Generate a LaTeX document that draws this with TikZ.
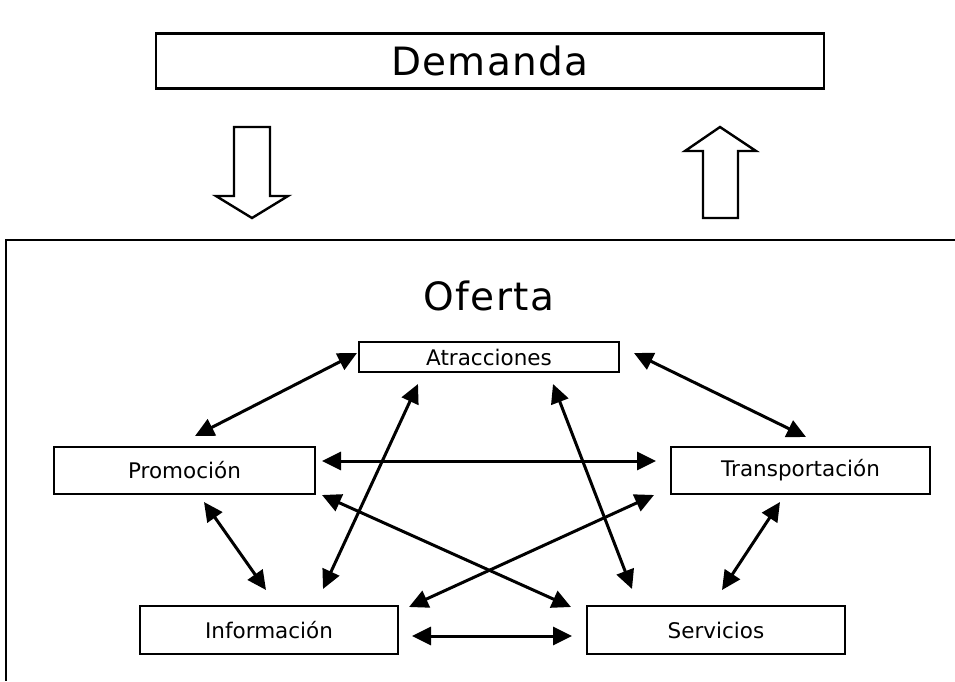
\documentclass[tikz,border=0pt]{standalone}
\usepackage{fontspec}
\setmainfont{DejaVu Sans}
\newfontfamily\widefont[LetterSpace=3.5]{DejaVu Sans}
\usetikzlibrary{arrows.meta}
\begin{document}
\begin{tikzpicture}[x=1pt,y=-1pt,
  box/.style={draw,line width=2.2pt,rectangle,inner sep=0pt,anchor=center},
  small/.style={font=\fontsize{21.5}{23}\selectfont},
  link/.style={line width=3pt,{Triangle[length=19pt,width=18pt]}-{Triangle[length=19pt,width=18pt]}},
  bigarrow/.style={draw,line width=2.4pt,line join=miter,fill=white}]
\useasboundingbox (0,0) rectangle (955,681);
% Demanda
\node[box,minimum width=668pt,minimum height=55pt,font=\widefont\fontsize{39}{41}\selectfont] (dem) at (490,61) {Demanda};
% big arrows
\draw[bigarrow] (234,127) -- (270,127) -- (270,196) -- (288,196) -- (252,218) -- (216,196) -- (234,196) -- cycle;
\draw[bigarrow] (703,218) -- (738,218) -- (738,151) -- (756,151) -- (720,127) -- (685,151) -- (703,151) -- cycle;
% outer frame
\draw[line width=2.6pt] (955,240) -- (6,240) -- (6,681);
\node[font=\widefont\fontsize{39}{41}\selectfont] (of) at (489,296) {Oferta};
% boxes
\node[box,small,minimum width=260pt,minimum height=30pt] (atr) at (489,357) {Atracciones};
\node[box,small,minimum width=261pt,minimum height=47pt] (pro) at (184.5,470.5) {Promoción};
\node[box,small,minimum width=259pt,minimum height=47pt] (tra) at (800.5,470.5) {Transportación};
\node[box,small,minimum width=258pt,minimum height=48pt] (inf) at (269,630) {Información};
\node[box,small,minimum width=258pt,minimum height=48pt] (ser) at (716,630) {Servicios};
% arrow endpoints
\coordinate (ap1) at (357,353); \coordinate (pa1) at (195,436);
\coordinate (at1) at (634,353); \coordinate (ta1) at (806,437);
\coordinate (pt1) at (322,461); \coordinate (tp1) at (656,461);
\coordinate (pi1) at (204,502); \coordinate (ip1) at (266,590);
\coordinate (ts1) at (780,502); \coordinate (st1) at (722,590);
\coordinate (is1) at (412,636); \coordinate (si1) at (572,636);
\coordinate (ai1) at (418,384); \coordinate (ia1) at (323,589);
\coordinate (as1) at (553,384); \coordinate (sa1) at (632,589);
\coordinate (ps1) at (322,495); \coordinate (sp1) at (571,607);
\coordinate (ti1) at (654,495); \coordinate (it1) at (409,607);
% connectors
\draw[link] (ap1) -- (pa1);
\draw[link] (at1) -- (ta1);
\draw[link] (pt1) -- (tp1);
\draw[link] (pi1) -- (ip1);
\draw[link] (ts1) -- (st1);
\draw[link] (is1) -- (si1);
\draw[link] (ai1) -- (ia1);
\draw[link] (as1) -- (sa1);
\draw[link] (ps1) -- (sp1);
\draw[link] (ti1) -- (it1);
\end{tikzpicture}
\end{document}
